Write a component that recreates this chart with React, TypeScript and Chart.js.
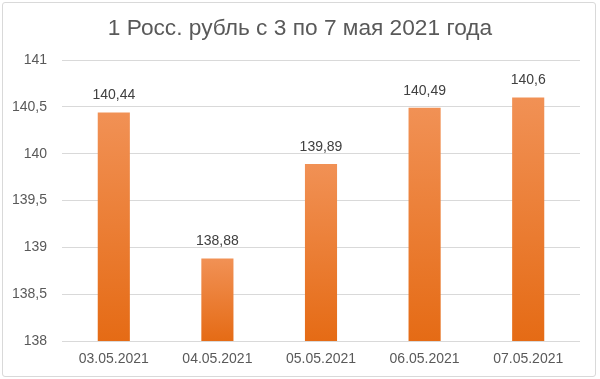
import React, { useEffect, useRef } from "react";
import { Chart, registerables } from "chart.js";

Chart.register(...registerables);

const categories = ["03.05.2021", "04.05.2021", "05.05.2021", "06.05.2021", "07.05.2021"];
const values = [140.44, 138.88, 139.89, 140.49, 140.6];
const yMin = 138;
const yMax = 141;
const yStep = 0.5;
const titleText = "1 Росс. рубль с 3 по 7 мая 2021 года";

const FONT = "'Liberation Sans', Arial, sans-serif";
const fmt = (v: number) => String(v).replace(".", ",");

const dataLabelPlugin = {
  id: "dataLabels",
  afterDatasetsDraw(chart: any) {
    const ctx = chart.ctx;
    const meta = chart.getDatasetMeta(0);
    ctx.save();
    ctx.font = `14px ${FONT}`;
    ctx.fillStyle = "#404040";
    ctx.textAlign = "center";
    ctx.textBaseline = "middle";
    meta.data.forEach((el: any, i: number) => {
      ctx.fillText(fmt(values[i]), el.x, el.y - 17);
    });
    ctx.restore();
  },
};

const titlePlugin = {
  id: "centerTitle",
  afterDraw(chart: any) {
    const ctx = chart.ctx;
    ctx.save();
    ctx.font = `22.7px ${FONT}`;
    ctx.fillStyle = "#595959";
    ctx.textAlign = "center";
    ctx.textBaseline = "alphabetic";
    ctx.fillText(titleText, 300, 35);
    ctx.restore();
  },
};

export default function App() {
  const ref = useRef<HTMLCanvasElement>(null);
  useEffect(() => {
    document.body.style.margin = "0";
    const canvas = ref.current!;
    const chart = new Chart(canvas, {
      type: "bar",
      data: {
        labels: categories,
        datasets: [
          {
            data: values,
            backgroundColor: (context: any) => {
              const c = context.chart;
              const ys = c.scales && c.scales.y;
              if (!ys || !c.chartArea || context.dataIndex === undefined) return "#EC7B30";
              const v = values[context.dataIndex];
              const top = ys.getPixelForValue(v);
              const bottom = ys.getPixelForValue(yMin);
              if (!isFinite(top) || !isFinite(bottom) || top === bottom) return "#EC7B30";
              const g = c.ctx.createLinearGradient(0, top, 0, bottom);
              g.addColorStop(0, "#F19155");
              g.addColorStop(1, "#E56B15");
              return g;
            },
            borderWidth: 0,
            categoryPercentage: 1,
            barPercentage: 0.31,
          },
        ],
      },
      options: {
        animation: false,
        responsive: false,
        maintainAspectRatio: false,
        layout: { padding: { left: 0, right: 20, top: 60, bottom: 0 } },
        plugins: {
          legend: { display: false },
          tooltip: { enabled: false },
          title: { display: false },
        },
        scales: {
          x: {
            grid: { display: false, drawTicks: false },
            border: { display: false },
            ticks: {
              color: "#595959",
              font: { family: FONT, size: 14 },
              padding: 10,
              maxRotation: 0,
            },
            afterFit: (s: any) => {
              s.height = 38;
            },
          },
          y: {
            min: yMin,
            max: yMax,
            grid: { color: "#D9D9D9", lineWidth: 1, drawTicks: false },
            border: { display: false },
            ticks: {
              stepSize: yStep,
              color: "#595959",
              font: { family: FONT, size: 14 },
              padding: 15,
              callback: (v: any) => fmt(Number(v)),
            },
            afterFit: (s: any) => {
              s.width = 62;
            },
          },
        },
      },
      plugins: [dataLabelPlugin, titlePlugin],
    });
    return () => chart.destroy();
  }, []);

  return (
    <div style={{ position: "fixed", left: 0, top: 0, width: 600, height: 379, background: "#fff" }}>
      <div
        style={{
          position: "absolute",
          left: 2,
          top: 2,
          width: 592,
          height: 373,
          border: "1px solid #D9D9D9",
          borderRadius: 3,
        }}
      />
      <canvas ref={ref} width={600} height={379} style={{ position: "absolute", left: 0, top: 0 }} />
    </div>
  );
}
